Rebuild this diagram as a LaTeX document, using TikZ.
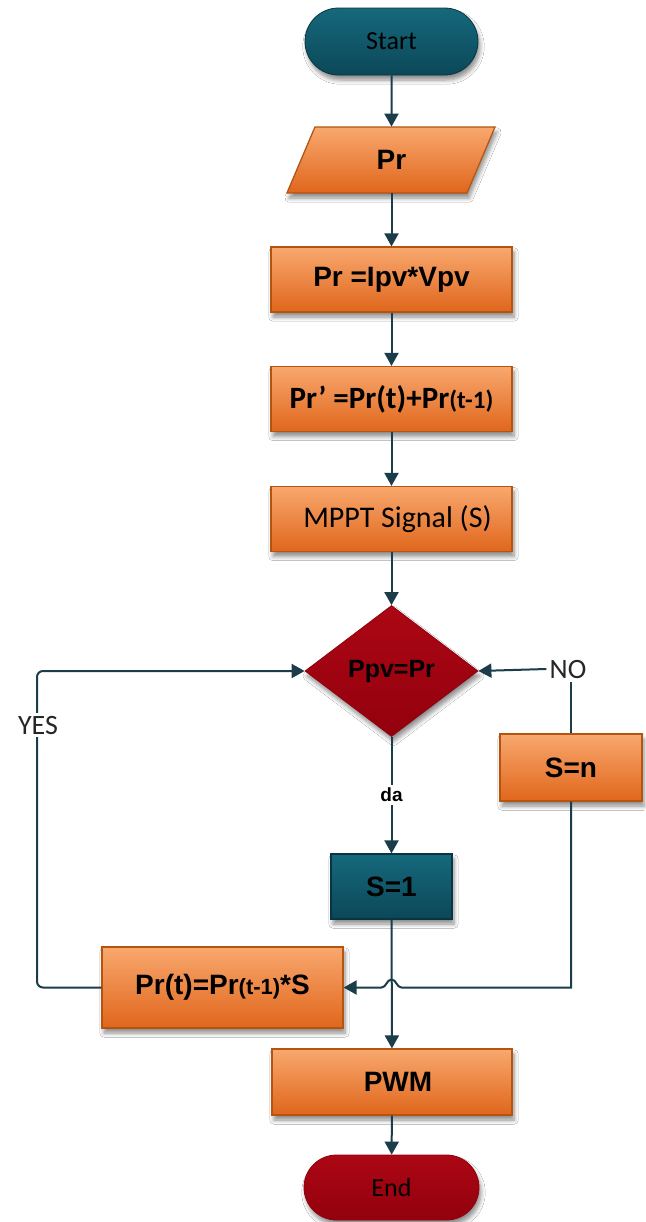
\documentclass[tikz,border=0pt]{standalone}
\usepackage{fontspec}
\setmainfont{Liberation Sans}
\newfontfamily\carl{Carlito}
\usetikzlibrary{shapes.geometric,shapes.misc,arrows.meta,shadows.blur,calc}
\definecolor{orL}{HTML}{F8A86E}
\definecolor{orD}{HTML}{E0661C}
\definecolor{orB}{HTML}{B4540F}
\definecolor{tlL}{HTML}{16687C}
\definecolor{tlD}{HTML}{0B4858}
\definecolor{tlB}{HTML}{083542}
\definecolor{rdL}{HTML}{AC0714}
\definecolor{rdD}{HTML}{93000D}
\definecolor{ln}{HTML}{1B3D4A}
\tikzset{
 shad/.style={blur shadow={shadow xshift=1pt,shadow yshift=-2.5pt,shadow opacity=45,shadow blur steps=6}},
 orfill/.style={draw=orB, line width=0.6pt, top color=orL, bottom color=orD, shad},
 orbox/.style={rectangle, orfill, minimum width=120.5pt, minimum height=32.5pt, inner sep=0pt,
   font=\bfseries\fontsize{14}{16}\selectfont, text=black},
 term/.style={rounded rectangle, minimum width=86.5pt, minimum height=33.5pt, inner sep=0pt, shad,
   font=\carl\fontsize{13}{15}\selectfont, text=black},
 conn/.style={draw=ln, line width=1pt},
 arr/.style={conn, -{Triangle[width=7pt,length=6.5pt]}},
 lbl/.style={fill=white, inner sep=1.5pt, font=\carl\fontsize{14}{16}\selectfont, text=black!85},
}
\begin{document}
\begin{tikzpicture}[x=0.5pt,y=-0.5pt]
\useasboundingbox[fill=white] (0,0) rectangle (645,1222);
% terminals
\node[term, draw=tlB, top color=tlL, bottom color=tlD] (start) at (391.5,41.5) {Start};
% parallelogram
\path[orfill] (315,127) -- (495,127) -- (467,193) -- (287,193) -- cycle;
\node[rectangle, minimum width=60pt, minimum height=33pt, inner sep=0pt,
  font=\bfseries\fontsize{14}{16}\selectfont] (pr) at (391.5,160) {Pr};
% process boxes
\node[orbox] (b1) at (391.5,279.5) {Pr =Ipv*Vpv};
\node[orbox, font=\carl\bfseries\fontsize{15.5}{17}\selectfont] (b2) at (391.5,399)
  {Pr’ =Pr(t)+Pr{\fontsize{12.5}{14}\selectfont(t-1)}};
\node[orbox, font=\carl\fontsize{15}{17}\selectfont] (b3) at (391.5,519) {\hspace*{6pt}MPPT Signal (S)};
% decision
\node[diamond, aspect=1.32, minimum width=86.5pt, minimum height=65.5pt, inner sep=0pt,
  top color=rdL, bottom color=rdD, draw=rdD, shad,
  font=\bfseries\fontsize{12.5}{14}\selectfont, text=black] (dec) at (391.5,671) {Ppv=Pr};
% side and lower boxes
\node[orbox, minimum width=71pt, minimum height=33.5pt] (sn) at (571,767.5) {S=n};
\node[rectangle, minimum width=60.5pt, minimum height=32.5pt, inner sep=0pt,
  draw=tlB, line width=0.6pt, top color=tlL, bottom color=tlD, shad,
  font=\bfseries\fontsize{14}{16}\selectfont, text=black] (s1) at (391.5,886.5) {S=1};
\node[orbox, minimum height=40.5pt] (prt) at (222.5,987.5)
  {Pr(t)=Pr{\fontsize{11}{13}\selectfont(t-1)}*S};
\node[orbox, minimum width=120pt, minimum height=33pt] (pwm) at (392,1082) {\hspace*{6pt}PWM};
\node[term, draw=rdD, top color=rdL, bottom color=rdD, minimum width=87.5pt, minimum height=32.5pt]
  (end) at (391.5,1187.5) {End};
% main flow
\draw[arr] (start) -- (pr);
\draw[arr] (pr) -- (b1);
\draw[arr] (b1) -- (b2);
\draw[arr] (b2) -- (b3);
\draw[arr] (b3) -- (dec);
\draw[arr] (dec) -- node[lbl, font=\bfseries\fontsize{9.5}{11}\selectfont, text=black] (da) {da} (s1);
\draw[arr] (s1) -- (pwm);
\draw[arr] (pwm) -- (end);
% NO branch
\node[lbl] (no) at (568,669) {NO};
\draw[conn] (sn.north) -- (sn.north |- no.south);
\draw[arr] (no.west) -- (dec.east);
\coordinate (hop) at (s1.south |- prt.east);
\draw[arr] (sn.south) -- (sn.south |- prt.east) -- ([xshift=5pt]hop)
  .. controls ([xshift=2.5pt]hop) and ([xshift=2.5pt,yshift=4pt]hop) .. ([yshift=4pt]hop)
  .. controls ([xshift=-2.5pt,yshift=4pt]hop) and ([xshift=-2.5pt]hop) .. ([xshift=-5pt]hop)
  -- (prt.east);
% YES loop
\coordinate (lc) at (37,671);
\draw[arr, rounded corners=3pt] (prt.west) -| (lc) -- (dec.west);
\node[lbl] (yes) at (38,725) {YES};
\end{tikzpicture}
\end{document}
